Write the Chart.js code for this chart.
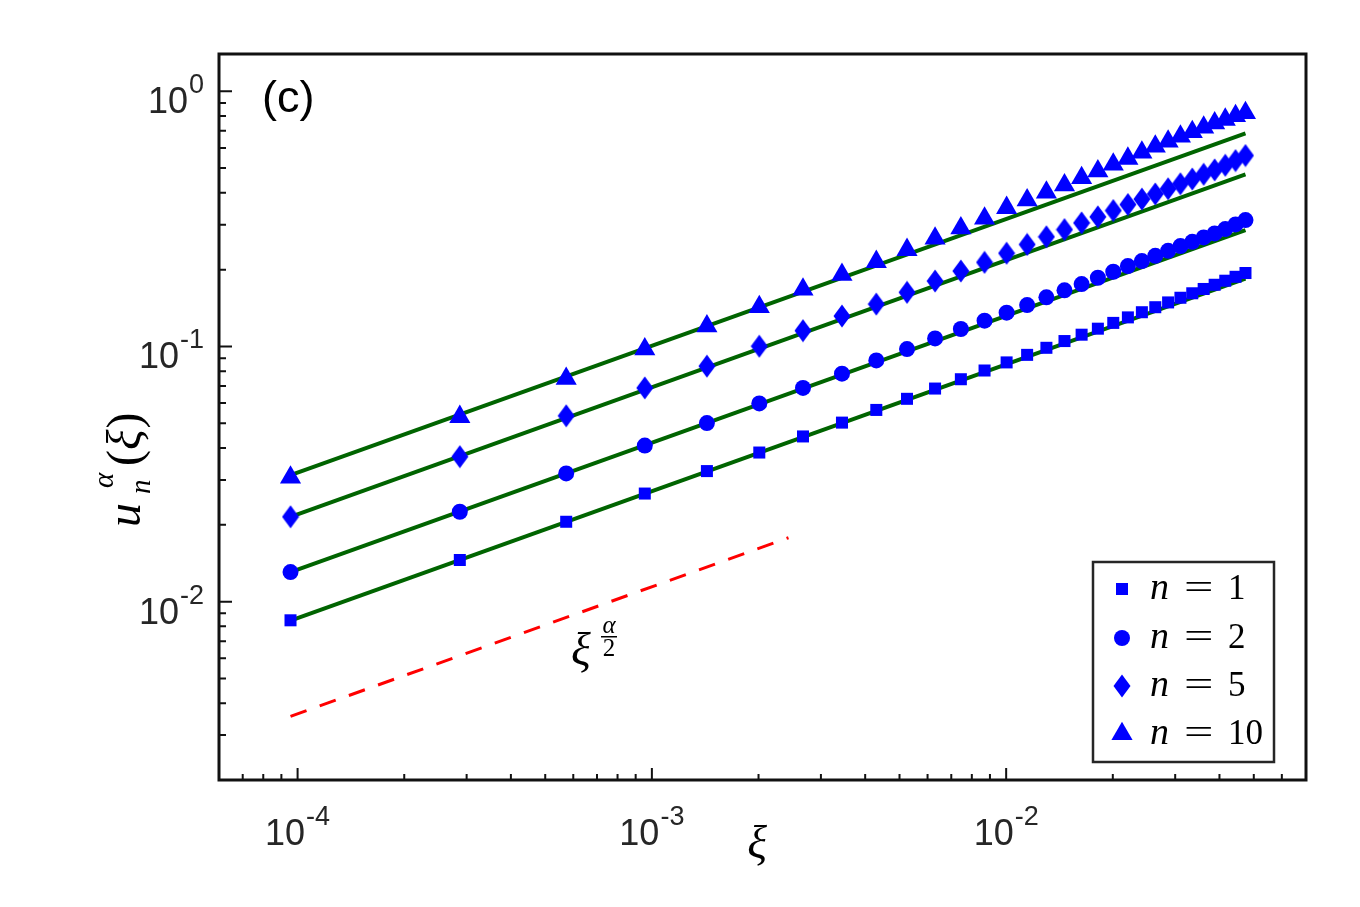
<!DOCTYPE html>
<html><head><meta charset="utf-8">
<script src="https://cdn.jsdelivr.net/npm/chart.js@4.4.0/dist/chart.umd.min.js"></script>
<style>html,body{margin:0;padding:0;background:#fff;} #wrap{width:1360px;height:907px;}</style>
</head><body><div id="wrap"><canvas id="c" width="1360" height="907"></canvas></div>
<script>
// ---- data ----
const xi = [9.55e-5, 2.87e-4, 5.73e-4, 9.55e-4, 1.43e-3, 2.01e-3, 2.67e-3, 3.44e-3, 4.30e-3, 5.25e-3,
  6.30e-3, 7.45e-3, 8.69e-3, 1.003e-2, 1.146e-2, 1.299e-2, 1.461e-2, 1.633e-2, 1.815e-2, 2.006e-2,
  2.206e-2, 2.416e-2, 2.636e-2, 2.865e-2, 3.104e-2, 3.352e-2, 3.610e-2, 3.877e-2, 4.154e-2, 4.441e-2, 4.737e-2];
const u_n1 = [0.00845, 0.01456, 0.02056, 0.02652, 0.03248, 0.03840, 0.04440, 0.05030, 0.05640, 0.06235,
  0.06840, 0.07440, 0.08050, 0.08660, 0.09270, 0.09880, 0.1050, 0.1112, 0.1174, 0.1237,
  0.1300, 0.1362, 0.1425, 0.1488, 0.1552, 0.1616, 0.1680, 0.1745, 0.1810, 0.1875, 0.1940];
const u_n2 = [0.01306, 0.0225, 0.0318, 0.0409, 0.0501, 0.0598, 0.0688, 0.0782, 0.0882, 0.0977,
  0.1075, 0.1171, 0.1262, 0.1356, 0.1453, 0.1558, 0.1660, 0.1756, 0.1859, 0.1962,
  0.2065, 0.2161, 0.2266, 0.2371, 0.2474, 0.2571, 0.2676, 0.2774, 0.2884, 0.3008, 0.3127];
const u_n5 = [0.02151, 0.0370, 0.0535, 0.0688, 0.0837, 0.1002, 0.1153, 0.1316, 0.1466, 0.1630,
  0.1805, 0.1975, 0.2136, 0.232, 0.251, 0.269, 0.287, 0.305, 0.322, 0.341,
  0.360, 0.378, 0.396, 0.415, 0.434, 0.453, 0.473, 0.492, 0.513, 0.535, 0.560];
const u_n10 = [0.0307, 0.0530, 0.0748, 0.0975, 0.1200, 0.1428, 0.1674, 0.1910, 0.2147, 0.2392,
  0.2651, 0.2909, 0.3176, 0.3494, 0.3744, 0.4014, 0.4286, 0.4577, 0.4863, 0.5165,
  0.5451, 0.5755, 0.6075, 0.6356, 0.6649, 0.6929, 0.7211, 0.7496, 0.7748, 0.8004, 0.8224];
// fitted power-law lines (end points)
const fitX = [9.55e-5, 4.737e-2];
const fit_n1 = [0.00842, 0.1843];
const fit_n2 = [0.01306, 0.286];
const fit_n5 = [0.02151, 0.4725];
const fit_n10 = [0.03133, 0.684];
// reference slope xi^(alpha/2)
const refX = [9.55e-5, 2.43e-3];
const refY = [0.00355, 0.0178];
// legend
const nValues = ['1', '2', '5', '10'];
// ticks
const xMajor = [1e-4, 1e-3, 1e-2];
const xMajorExp = ['-4', '-3', '-2'];
const xMinor = [7e-5, 8e-5, 9e-5, 2e-4, 3e-4, 4e-4, 5e-4, 6e-4, 7e-4, 8e-4, 9e-4,
  2e-3, 3e-3, 4e-3, 5e-3, 6e-3, 7e-3, 8e-3, 9e-3, 2e-2, 3e-2, 4e-2, 5e-2, 6e-2];
const yMajor = [1e-2, 1e-1, 1];
const yMajorExp = ['-2', '-1', '0'];
const yMinor = [3e-3, 4e-3, 5e-3, 6e-3, 7e-3, 8e-3, 9e-3, 2e-2, 3e-2, 4e-2, 5e-2, 6e-2, 7e-2, 8e-2, 9e-2,
  0.2, 0.3, 0.4, 0.5, 0.6, 0.7, 0.8, 0.9];

const BLUE = '#0000ff', GREEN = '#006400', RED = '#ff0000';
const pts = (xs, ys) => xs.map((v, i) => ({x: v, y: ys[i]}));

// diamond marker (taller than wide)
const diamond = document.createElement('canvas');
diamond.width = 18; diamond.height = 24;
(() => { const g = diamond.getContext('2d'); g.fillStyle = BLUE; g.beginPath();
  g.moveTo(9, 0.5); g.lineTo(17.5, 12); g.lineTo(9, 23.5); g.lineTo(0.5, 12); g.closePath(); g.fill(); })();

const markerDs = (label, ys, style, r) => ({label, data: pts(xi, ys), showLine: false,
  pointStyle: style, pointRadius: r, backgroundColor: BLUE, borderColor: BLUE, borderWidth: 0});
const lineDs = (ys) => ({data: pts(fitX, ys), showLine: true, pointRadius: 0,
  borderColor: GREEN, borderWidth: 4, fill: false});

const serif = '"Liberation Serif", "Times New Roman", serif';
const sans = '"Liberation Sans", Arial, sans-serif';

function tickLabel(ctx, exp, x, y, mode) {
  ctx.font = '36px ' + sans; const w1 = ctx.measureText('10').width;
  ctx.font = '27px ' + sans; const w2 = ctx.measureText(exp).width;
  const gap = 1;
  const x0 = mode === 'center' ? x - (w1 + gap + w2) / 2 : x - (w1 + gap + w2);
  ctx.font = '36px ' + sans; ctx.fillText('10', x0, y);
  ctx.font = '27px ' + sans; ctx.fillText(exp, x0 + w1 + gap, y - 20);
}

const overlay = {
  id: 'overlay',
  afterDatasetsDraw(chart) {
    const {ctx, chartArea: a, scales: {x, y}} = chart;
    ctx.save();
    ctx.strokeStyle = '#111'; ctx.lineWidth = 2;
    ctx.beginPath();
    xMajor.forEach(v => { const p = x.getPixelForValue(v); ctx.moveTo(p, a.bottom); ctx.lineTo(p, a.bottom - 12); });
    xMinor.forEach(v => { const p = x.getPixelForValue(v); ctx.moveTo(p, a.bottom); ctx.lineTo(p, a.bottom - 6); });
    yMajor.forEach(v => { const p = y.getPixelForValue(v); ctx.moveTo(a.left, p); ctx.lineTo(a.left + 13, p); });
    yMinor.forEach(v => { const p = y.getPixelForValue(v); ctx.moveTo(a.left, p); ctx.lineTo(a.left + 7, p); });
    ctx.stroke();
    ctx.lineWidth = 3;
    ctx.strokeRect(a.left, a.top, a.right - a.left, a.bottom - a.top);
    ctx.restore();
  },
  afterDraw(chart) {
    const {ctx, chartArea: a, scales: {x, y}} = chart;
    ctx.save();
    ctx.textAlign = 'left'; ctx.textBaseline = 'alphabetic';
    // tick labels
    ctx.fillStyle = '#262626';
    xMajor.forEach((v, i) => tickLabel(ctx, xMajorExp[i], x.getPixelForValue(v), 845, 'center'));
    yMajor.forEach((v, i) => tickLabel(ctx, yMajorExp[i], 204, y.getPixelForValue(v) + 22, 'right'));
    // panel tag
    ctx.fillStyle = '#000';
    ctx.font = '45px ' + sans; ctx.fillText('(c)', 262, 112);
    // x label
    ctx.font = 'italic 46px ' + serif; ctx.textAlign = 'center';
    ctx.fillText('ξ', 757, 858);
    // slope annotation xi^(alpha/2)
    ctx.textAlign = 'left';
    ctx.fillText('ξ', 571, 665);
    ctx.textAlign = 'center';
    ctx.font = 'italic 25px ' + serif; ctx.fillText('α', 609, 633);
    ctx.font = '25px ' + serif; ctx.fillText('2', 609, 656);
    ctx.fillRect(601, 636, 16, 1.5);
    // y label u_n^alpha(xi)
    ctx.save();
    ctx.translate(140, 527); ctx.rotate(-Math.PI / 2);
    ctx.textAlign = 'left';
    ctx.font = 'italic 48px ' + serif; ctx.fillText('u', 0, 0);
    ctx.font = 'italic 29px ' + serif; ctx.fillText('α', 39, -27); ctx.fillText('n', 33, 10);
    ctx.font = '48px ' + serif; ctx.fillText('(', 61, 0);
    let w = ctx.measureText('(').width;
    ctx.font = 'italic 48px ' + serif; ctx.fillText('ξ', 61 + w, 0);
    const w2 = ctx.measureText('ξ').width;
    ctx.font = '48px ' + serif; ctx.fillText(')', 61 + w + w2 + 1, 0);
    ctx.restore();
    // legend
    const L = 1093, T = 562, W = 181, H = 200;
    ctx.fillStyle = '#fff'; ctx.fillRect(L, T, W, H);
    ctx.strokeStyle = '#262626'; ctx.lineWidth = 2.5; ctx.strokeRect(L, T, W, H);
    const rows = [589, 638, 686, 734];
    const mx = 1122;
    ctx.fillStyle = BLUE;
    ctx.fillRect(mx - 6, rows[0] - 6, 12, 12);
    ctx.beginPath(); ctx.arc(mx, rows[1], 8, 0, Math.PI * 2); ctx.fill();
    ctx.drawImage(diamond, mx - 9, rows[2] - 12);
    ctx.beginPath(); ctx.moveTo(mx, rows[3] - 12.2); ctx.lineTo(mx + 10.6, rows[3] + 6.1); ctx.lineTo(mx - 10.6, rows[3] + 6.1); ctx.closePath(); ctx.fill();
    ctx.fillStyle = '#000'; ctx.textAlign = 'left';
    nValues.forEach((n, i) => {
      const b = rows[i] + 10;
      ctx.font = 'italic 38px ' + serif; ctx.fillText('n', 1150, b);
      ctx.save(); ctx.translate(1184, b); ctx.scale(1.45, 1);
      ctx.font = '36px ' + serif; ctx.fillText('=', 0, 0); ctx.restore();
      ctx.font = '35px ' + serif; ctx.fillText(n, 1228, b);
    });
    ctx.restore();
  }
};

new Chart(document.getElementById('c'), {
  type: 'scatter',
  data: {
    datasets: [
      markerDs('n = 1', u_n1, 'rect', 8.5),
      markerDs('n = 2', u_n2, 'circle', 8),
      markerDs('n = 5', u_n5, diamond, 8),
      markerDs('n = 10', u_n10, 'triangle', 12.2),
      lineDs(fit_n1), lineDs(fit_n2), lineDs(fit_n5), lineDs(fit_n10),
      {data: pts(refX, refY), showLine: true, pointRadius: 0, borderColor: RED, borderWidth: 3,
       borderDash: [17, 14], fill: false}
    ]
  },
  options: {
    responsive: false, animation: false, devicePixelRatio: 1, events: [],
    layout: {padding: {left: 219, right: 54, top: 54, bottom: 127}},
    plugins: {legend: {display: false}, tooltip: {enabled: false}},
    scales: {
      x: {type: 'logarithmic', min: 6e-5, max: 0.0702, display: false},
      y: {type: 'logarithmic', min: 0.002, max: 1.4, display: false}
    }
  },
  plugins: [overlay]
});
</script>
</body></html>
